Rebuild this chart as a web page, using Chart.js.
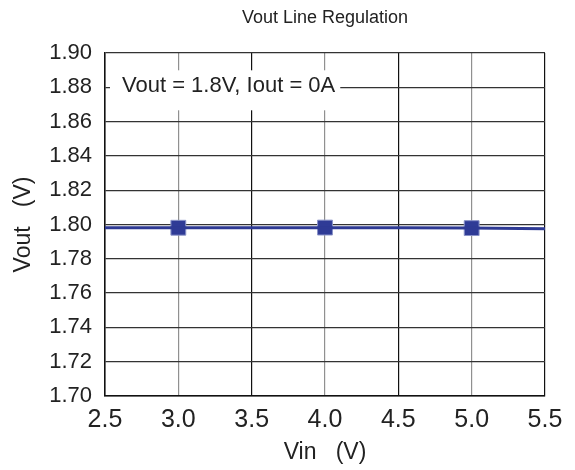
<!DOCTYPE html>
<html>
<head>
<meta charset="utf-8">
<script src="https://cdn.jsdelivr.net/npm/chart.js@4/dist/chart.umd.min.js"></script>
<style>
  html, body { margin: 0; padding: 0; background: #fff; }
  #wrap { width: 575px; height: 470px; }
</style>
</head>
<body>
<div id="wrap"><canvas id="lineChart"></canvas></div>
<script>
// curve data
const vin = [2.5, 3.0, 3.5, 4.0, 4.5, 5.0, 5.5];
const vout = [1.7981, 1.7981, 1.7981, 1.7981, 1.7981, 1.7980, 1.7975];

// square markers
const markVin = [3.0, 4.0, 5.0];
const markVout = [1.7981, 1.7982, 1.7979];

const yTicks = [1.70, 1.72, 1.74, 1.76, 1.78, 1.80, 1.82, 1.84, 1.86, 1.88, 1.90];
const xTicks = [2.5, 3.0, 3.5, 4.0, 4.5, 5.0, 5.5];

const note = "Vout = 1.8V, Iout = 0A";
const fontFam = "'Liberation Sans', Arial, Helvetica, sans-serif";

const notePlugin = {
    id: "note",
    beforeDatasetsDraw(chart) {
        const c = chart.ctx;
        const x0 = chart.scales.x.left;
        const y0 = chart.scales.y.getPixelForValue(1.88);
        c.save();
        c.font = "22px " + fontFam;
        const w = c.measureText(note).width;
        c.fillStyle = "#fff";
        c.fillRect(x0 + 5, y0 - 17, w + 17, 40);
        c.fillStyle = "#222";
        c.textBaseline = "middle";
        c.fillText(note, x0 + 17, y0 - 1);
        c.restore();
    }
};

let ctx = document.getElementById("lineChart").getContext("2d");
let myChart = new Chart(ctx, {
    type: "scatter",
    data: {
        datasets: [
            {
                label: "Vout",
                data: vin.map((v, i) => ({ x: v, y: vout[i] })),
                showLine: true,
                borderColor: "#2e3a94",
                borderWidth: 3,
                pointRadius: 0,
            },
            {
                label: "marks",
                data: markVin.map((v, i) => ({ x: v, y: markVout[i] })),
                showLine: false,
                pointStyle: "rect",
                pointRadius: 10.5,
                backgroundColor: "#2f3b96",
                borderColor: "#8a93c8",
                borderWidth: 1,
            },
        ],
    },
    plugins: [notePlugin],
    options: {
        responsive: true,
        maintainAspectRatio: false,
        animation: false,
        layout: { padding: { left: 0, right: 30, top: 0, bottom: 0 } },
        plugins: {
            legend: { display: false },
            tooltip: { enabled: false },
            title: {
                display: true,
                fullSize: false,
                text: "Vout Line Regulation",
                color: "#222",
                font: { family: fontFam, size: 18, weight: "normal" },
                padding: { top: 7, bottom: 24.4 },
            },
        },
        scales: {
            x: {
                type: "linear",
                min: 2.5,
                max: 5.5,
                afterBuildTicks: (s) => { s.ticks = xTicks.map(v => ({ value: v })); },
                afterFit: (s) => { s.height = 74; },
                ticks: {
                    callback: (v) => v.toFixed(1),
                    color: "#222",
                    font: { family: fontFam, size: 25 },
                    padding: 9,
                    maxRotation: 0,
                },
                grid: {
                    color: (c) => (Math.abs(c.tick.value % 1) < 1e-6 && c.tick.value > 2.5 && c.tick.value < 5.5) ? "#909090" : "#111",
                    lineWidth: 1.2,
                    drawTicks: false,
                },
                border: { color: "#111", width: 1.5 },
                title: {
                    display: true,
                    text: "Vin   (V)",
                    color: "#222",
                    font: { family: fontFam, size: 23 },
                    padding: { top: 4, bottom: 4 },
                },
            },
            y: {
                min: 1.70,
                max: 1.90,
                afterBuildTicks: (s) => { s.ticks = yTicks.map(v => ({ value: v })); },
                afterFit: (s) => { s.width = 105; },
                ticks: {
                    callback: (v) => v.toFixed(2),
                    color: "#222",
                    font: { family: fontFam, size: 22 },
                    padding: 13,
                },
                grid: {
                    color: "#333",
                    lineWidth: 1.2,
                    drawTicks: false,
                },
                border: { color: "#111", width: 1.5 },
                title: {
                    display: true,
                    text: "Vout   (V)",
                    color: "#222",
                    font: { family: fontFam, size: 23 },
                    padding: { top: 10, bottom: 10 },
                },
            },
        },
    },
});
</script>
</body>
</html>
